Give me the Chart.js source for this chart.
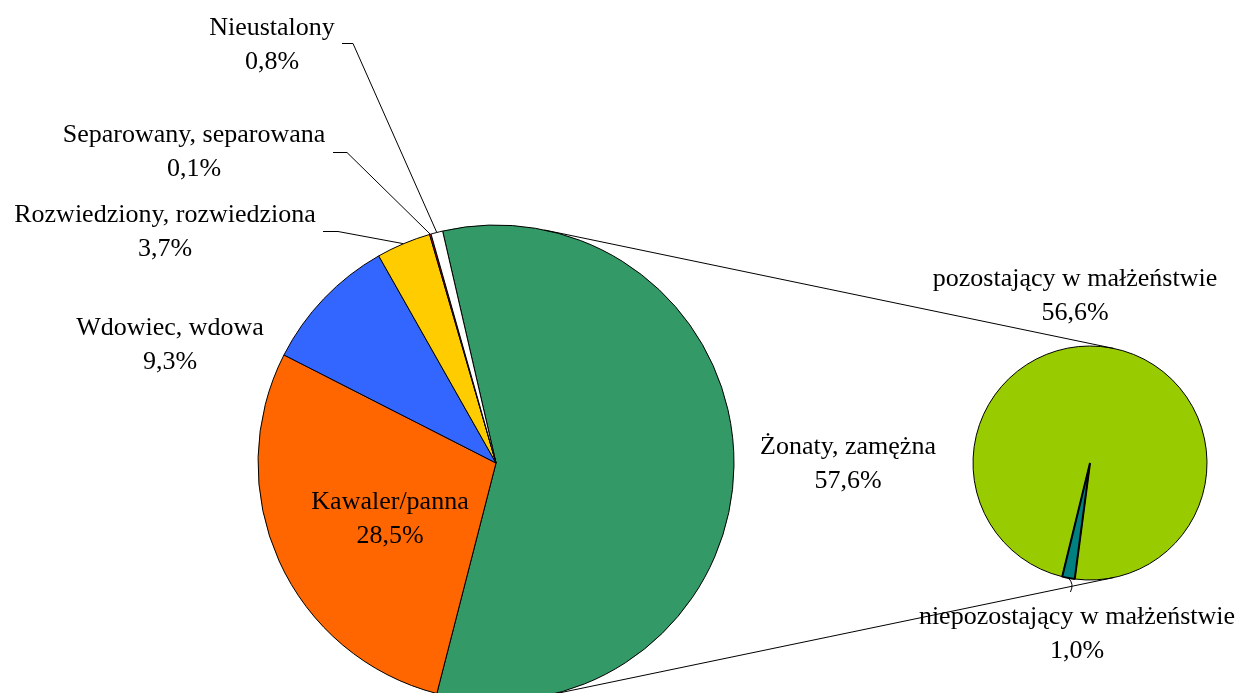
<!DOCTYPE html>
<html><head><meta charset="utf-8">
<script src="https://cdn.jsdelivr.net/npm/chart.js@4.4.0/dist/chart.umd.min.js"></script>
<style>
html,body{margin:0;padding:0;background:#fff;overflow:hidden;width:1239px;height:693px}
#wrap{position:relative;width:1239px;height:693px;overflow:hidden}
canvas{position:absolute;left:0;top:0}
</style></head><body>
<div id="wrap"><canvas id="main" width="1239" height="720"></canvas><canvas id="sub" width="1239" height="720"></canvas></div>
<script>
const categories = ['Żonaty, zamężna','Kawaler/panna','Wdowiec, wdowa','Rozwiedziony, rozwiedziona','Separowany, separowana','Nieustalony'];
const values = [57.6, 28.5, 9.3, 3.7, 0.1, 0.8];
const colors = ['#339966','#FF6600','#3366FF','#FFCC00','#FF0000','#FFFFFF'];
const subCategories = ['pozostający w małżeństwie','niepozostający w małżeństwie'];
const subValues = [56.6, 1.0];
const subColors = ['#99CC00','#008080'];

const FONT = '26px "Liberation Serif", "Times New Roman", serif';
const LINE = 34;
const fmt = v => v.toFixed(1).replace('.', ',') + '%';

// label layout (centre of first line)
const mainLabelPos = [[848,447],[390,502],[170,328],[165,215],[194,135],[272,28]];
// leader: [xStart, y, xElbow]
const mainLeader = [null,null,null,[323,231,338],[333,152,347],[342,43,353]];
const subLabelPos = [[1075,279],[1077,617]];

function arcMid(arc, rFactor) {
  const p = arc.getProps(['x','y','startAngle','endAngle','outerRadius'], true);
  const a = (p.startAngle + p.endAngle) / 2;
  const r = p.outerRadius * (rFactor || 1);
  return [p.x + r * Math.cos(a), p.y + r * Math.sin(a)];
}

function drawLabel(ctx, x, y, name, val) {
  ctx.save();
  ctx.font = FONT;
  ctx.fillStyle = '#000';
  ctx.textAlign = 'center';
  ctx.textBaseline = 'middle';
  ctx.fillText(name, x, y);
  ctx.fillText(fmt(val), x, y + LINE);
  ctx.restore();
}

const mainLabels = {
  id: 'mainLabels',
  afterDraw(chart) {
    const ctx = chart.ctx;
    const arcs = chart.getDatasetMeta(0).data;
    ctx.save();
    ctx.strokeStyle = '#000';
    ctx.lineWidth = 1;
    mainLeader.forEach((l, i) => {
      if (!l) return;
      const [mx, my] = arcMid(arcs[i]);
      ctx.beginPath();
      ctx.moveTo(l[0], l[1] + 0.5);
      ctx.lineTo(l[2], l[1] + 0.5);
      ctx.lineTo(mx, my);
      ctx.stroke();
    });
    ctx.restore();
    categories.forEach((c, i) => drawLabel(ctx, mainLabelPos[i][0], mainLabelPos[i][1], c, values[i]));
  }
};

let mainChart;
const subLabels = {
  id: 'subLabels',
  afterDraw(chart) {
    const ctx = chart.ctx;
    const sArc = chart.getDatasetMeta(0).data[0].getProps(['x','y','outerRadius'], true);
    const mArc = mainChart.getDatasetMeta(0).data[0].getProps(['x','y','outerRadius'], true);
    const dx = sArc.x - mArc.x, dy = sArc.y - mArc.y;
    const d = Math.hypot(dx, dy);
    const ux = dx / d, uy = dy / d;
    const s = (mArc.outerRadius - sArc.outerRadius) / d;
    const c = Math.sqrt(1 - s * s);
    ctx.save();
    ctx.strokeStyle = '#000';
    ctx.lineWidth = 1;
    [-1, 1].forEach(sign => {
      // normal vector rotated from centre line
      const nx = ux * s - sign * uy * c;
      const ny = uy * s + sign * ux * c;
      ctx.beginPath();
      ctx.moveTo(mArc.x + mArc.outerRadius * nx, mArc.y + mArc.outerRadius * ny);
      ctx.lineTo(sArc.x + sArc.outerRadius * nx, sArc.y + sArc.outerRadius * ny);
      ctx.stroke();
    });
    // small leader for the teal slice
    const [tx, ty] = arcMid(chart.getDatasetMeta(0).data[1]);
    ctx.beginPath();
    ctx.moveTo(tx, ty);
    ctx.quadraticCurveTo(tx + 6, ty + 6, tx + 2, ty + 14);
    ctx.stroke();
    ctx.restore();
    subCategories.forEach((c, i) => drawLabel(ctx, subLabelPos[i][0], subLabelPos[i][1], c, subValues[i]));
  }
};

const common = {
  responsive: false,
  animation: false,
  devicePixelRatio: 1,
  events: [],
  plugins: { legend: { display: false }, tooltip: { enabled: false } }
};

mainChart = new Chart(document.getElementById('main'), {
  type: 'pie',
  data: { labels: categories, datasets: [{ data: values, backgroundColor: colors, borderColor: '#000', borderWidth: 1 }] },
  options: Object.assign({}, common, {
    rotation: -12.96,
    radius: 238,
    layout: { padding: { left: 246, right: 493, top: 213, bottom: 7 } }
  }),
  plugins: [mainLabels]
});

new Chart(document.getElementById('sub'), {
  type: 'pie',
  data: { labels: subCategories, datasets: [{ data: subValues, backgroundColor: subColors, borderColor: '#000', borderWidth: [1, 2] }] },
  options: Object.assign({}, common, {
    rotation: 193.75,
    radius: 117,
    layout: { padding: { left: 970, right: 29, top: 343, bottom: 137 } }
  }),
  plugins: [subLabels]
});
</script>
</body></html>
